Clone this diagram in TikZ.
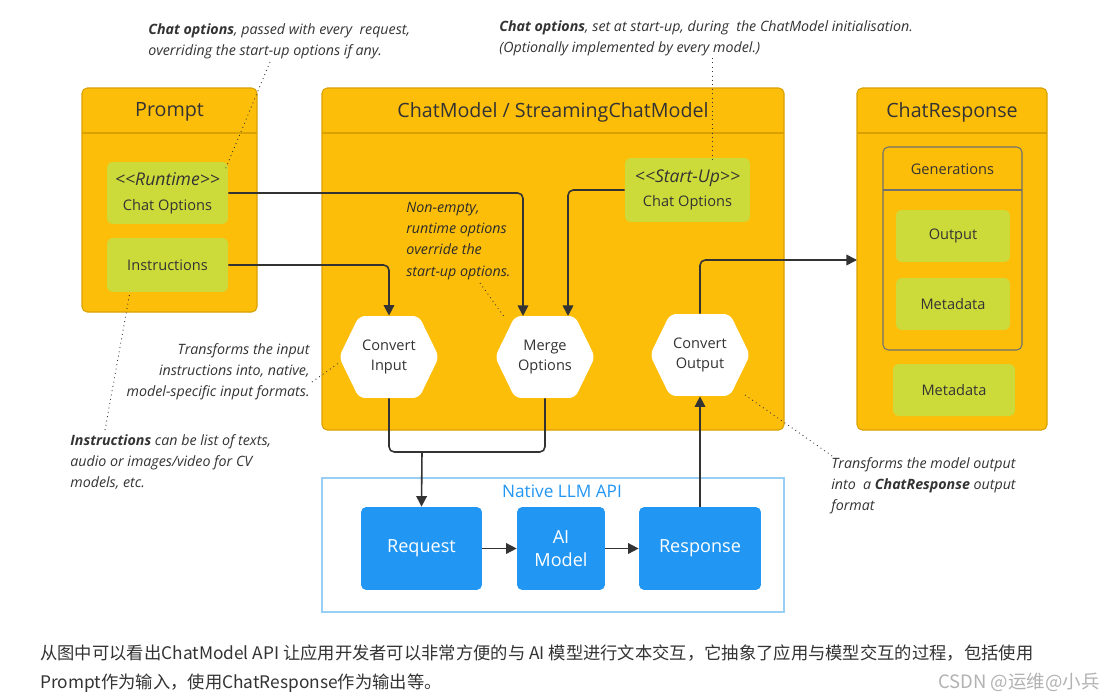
\documentclass[tikz,border=0pt]{standalone}
\usepackage{fontspec}
\setmainfont{Open Sans}
\newfontfamily\cjk{Noto Sans CJK SC}
\usetikzlibrary{shapes.symbols,arrows.meta}
\definecolor{org}{HTML}{FDBE0A}
\definecolor{orgd}{HTML}{D9A000}
\definecolor{grn}{HTML}{CDDB3A}
\definecolor{blu}{HTML}{2196F3}
\definecolor{lblu}{HTML}{9ACFF5}
\definecolor{txt}{HTML}{333333}
\begin{document}
\begin{tikzpicture}[x=0.02cm,y=-0.02cm,
 box/.style={draw=orgd,fill=org,rounded corners=3pt,line width=0.6pt},
 gbox/.style={fill=grn,rounded corners=3pt,text=txt,align=center,font=\fontsize{8.3}{14}\selectfont},
 title/.style={text=txt,font=\fontsize{11.2}{12}\selectfont},
 hex/.style={shape=signal,signal to=east and west,signal pointer angle=128,fill=white,minimum width=2cm,minimum height=1.64cm,inner sep=0pt,align=center,text=txt,font=\fontsize{8.3}{11.5}\selectfont,rounded corners=3.5pt},
 bbox/.style={fill=blu,rounded corners=3pt,text=white,align=center,font=\fontsize{10.3}{13}\selectfont},
 arr/.style={draw=txt,line width=0.9pt,rounded corners=3pt,-{Triangle[length=6pt,width=6pt]}},
 ln/.style={draw=txt,line width=0.9pt,rounded corners=3pt},
 note/.style={text=txt,font=\itshape\fontsize{8.1}{12}\selectfont,inner sep=0pt},
 dot/.style={draw=txt,dotted,line width=0.5pt}]
\fill[white] (0,0) rectangle (1106,700);
\useasboundingbox (0,0) rectangle (1106,700);
% Prompt
\draw[box] (82,88) rectangle (257,312);
\draw[orgd,line width=0.6pt] (82,133) -- (257,133);
\node[title] (pt) at (169.5,112) {Prompt};
\node[gbox,minimum width=2.42cm,minimum height=1.24cm] (rt) at (167.5,193) {{\itshape\fontsize{10}{12}\selectfont <{}<Runtime>{}>}\\Chat Options};
\node[gbox,minimum width=2.42cm,minimum height=1.08cm] (ins) at (167.5,265) {Instructions};
% ChatModel
\draw[box] (322,88) rectangle (784,430);
\draw[orgd,line width=0.6pt] (322,133) -- (784,133);
\node[title] (cm) at (553,112) {ChatModel / StreamingChatModel};
\node[gbox,minimum width=2.5cm,minimum height=1.28cm] (su) at (687.5,190) {{\itshape\fontsize{10}{12}\selectfont <{}<Start-Up>{}>}\\Chat Options};
\node[hex] (ci) at (389,357) {Convert\\Input};
\node[hex] (mo) at (545,357) {Merge\\Options};
\node[hex] (co) at (700,355) {Convert\\Output};
% ChatResponse
\draw[box] (857,88) rectangle (1047,430);
\draw[orgd,line width=0.6pt] (857,133) -- (1047,133);
\node[title] (cr) at (952,112) {ChatResponse};
\draw[box,draw=txt!70] (883,147) rectangle (1022,350);
\draw[txt!70,line width=0.6pt] (883,190) -- (1022,190);
\node[title,font=\fontsize{8.3}{10}\selectfont] (gen) at (952.5,169) {Generations};
\node[gbox,minimum width=2.28cm,minimum height=1.04cm] (out) at (953,236) {Output};
\node[gbox,minimum width=2.28cm,minimum height=1.04cm] (md1) at (953,304) {Metadata};
\node[gbox,minimum width=2.44cm,minimum height=1.04cm] (md2) at (954,390) {Metadata};
% Native LLM
\draw[lblu,line width=0.8pt] (322,478) rectangle (784,612);
\node[text=blu,font=\fontsize{9.8}{11}\selectfont] (nl) at (562,491) {Native LLM API};
\node[bbox,minimum width=2.42cm,minimum height=1.66cm] (req) at (421.5,548.5) {Request};
\node[bbox,minimum width=1.76cm,minimum height=1.66cm] (ai) at (561,548.5) {AI\\Model};
\node[bbox,minimum width=2.44cm,minimum height=1.66cm] (resp) at (700,548.5) {Response};
\coordinate (j) at (422,452);
% connectors
\draw[arr] (rt.east) -- (523,193) -- (523,316);
\draw[arr] (ins.east) -- (389,265) -- (ci.north);
\draw[arr] (su.west) -- (568,190) -- (568,316);
\draw[ln] (ci.south) -- (389,452) -- (545,452) -- (mo.south);
\draw[arr] (j) -- (req.north);
\draw[arr] (resp.north) -- (co.south);
\draw[arr,rounded corners=3pt] (co.north) -- (700,260) -- (857,260);
\draw[arr] (req.east) -- (ai.west);
\draw[arr] (ai.east) -- (resp.west);
% notes
\node[note,anchor=west,align=left] (n1) at (148,41) {\textbf{Chat options}, passed with every\ \ request,\\overriding the start-up options if any.};
\node[note,anchor=west,align=left] (n2) at (499,38) {\textbf{Chat options}, set at start-up, during\ \ the ChatModel initialisation.\\(Optionally implemented by every model.)};
\node[note,anchor=west,align=left,text=txt!85!black] (n3) at (406,241) {Non-empty,\\runtime options\\override the\\start-up options.};
\node[note,anchor=east,align=right] (n4) at (310,372) {Transforms the input\\instructions into, native,\\model-specific input formats.};
\node[note,anchor=west,align=left] (n5) at (70,462) {\textbf{Instructions} can be list of texts,\\audio or images/video for CV\\models, etc.};
\node[note,anchor=west,align=left] (n6) at (831,486) {Transforms the model output\\into\ \ a \textbf{ChatResponse} output\\format};
\draw[dot] (270,62) -- (225,170);
\draw[dot] (712,58) -- (712,160);
\draw[dot] (480,283) -- (505,318);
\draw[dot] (312,382) -- (340,362);
\draw[dot] (105,430) -- (130,292);
\draw[dot] (745,395) -- (835,458);
% bottom text
\node[anchor=west,text=txt,font=\cjk\fontsize{9.85}{10}\selectfont,inner sep=0pt] (c1) at (40,653) {从图中可以看出ChatModel API 让应用开发者可以非常方便的与 AI 模型进行文本交互，它抽象了应用与模型交互的过程，包括使用};
\node[anchor=west,text=txt,font=\cjk\fontsize{9.85}{10}\selectfont,inner sep=0pt] (c2) at (40,683) {Prompt作为输入，使用ChatResponse作为输出等。};
\node[anchor=east,text=gray!60,font=\cjk\fontsize{10.5}{10}\selectfont,inner sep=0pt] (wm) at (1100,682) {CSDN @运维@小兵};
\end{tikzpicture}
\end{document}
